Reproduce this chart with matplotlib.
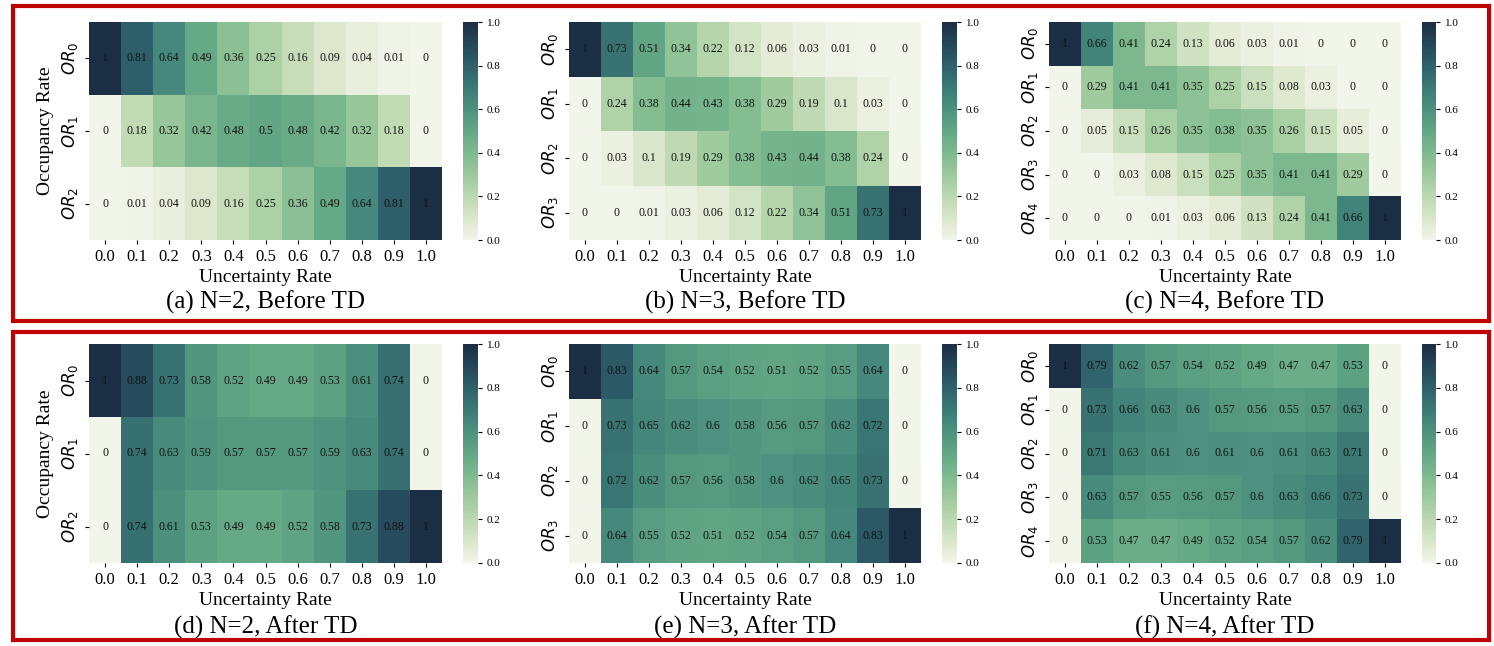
"""Heatmaps of occupancy rate vs uncertainty rate, before/after TD."""
import matplotlib
matplotlib.use("Agg")
import matplotlib.pyplot as plt
from matplotlib.patches import Rectangle
import numpy as np
import seaborn as sns

uncertainty = ["0.0", "0.1", "0.2", "0.3", "0.4", "0.5", "0.6", "0.7", "0.8", "0.9", "1.0"]

n2_before = [
    [1, 0.81, 0.64, 0.49, 0.36, 0.25, 0.16, 0.09, 0.04, 0.01, 0],
    [0, 0.18, 0.32, 0.42, 0.48, 0.5, 0.48, 0.42, 0.32, 0.18, 0],
    [0, 0.01, 0.04, 0.09, 0.16, 0.25, 0.36, 0.49, 0.64, 0.81, 1],
]
n3_before = [
    [1, 0.73, 0.51, 0.34, 0.22, 0.12, 0.06, 0.03, 0.01, 0, 0],
    [0, 0.24, 0.38, 0.44, 0.43, 0.38, 0.29, 0.19, 0.1, 0.03, 0],
    [0, 0.03, 0.1, 0.19, 0.29, 0.38, 0.43, 0.44, 0.38, 0.24, 0],
    [0, 0, 0.01, 0.03, 0.06, 0.12, 0.22, 0.34, 0.51, 0.73, 1],
]
n4_before = [
    [1, 0.66, 0.41, 0.24, 0.13, 0.06, 0.03, 0.01, 0, 0, 0],
    [0, 0.29, 0.41, 0.41, 0.35, 0.25, 0.15, 0.08, 0.03, 0, 0],
    [0, 0.05, 0.15, 0.26, 0.35, 0.38, 0.35, 0.26, 0.15, 0.05, 0],
    [0, 0, 0.03, 0.08, 0.15, 0.25, 0.35, 0.41, 0.41, 0.29, 0],
    [0, 0, 0, 0.01, 0.03, 0.06, 0.13, 0.24, 0.41, 0.66, 1],
]
n2_after = [
    [1, 0.88, 0.73, 0.58, 0.52, 0.49, 0.49, 0.53, 0.61, 0.74, 0],
    [0, 0.74, 0.63, 0.59, 0.57, 0.57, 0.57, 0.59, 0.63, 0.74, 0],
    [0, 0.74, 0.61, 0.53, 0.49, 0.49, 0.52, 0.58, 0.73, 0.88, 1],
]
n3_after = [
    [1, 0.83, 0.64, 0.57, 0.54, 0.52, 0.51, 0.52, 0.55, 0.64, 0],
    [0, 0.73, 0.65, 0.62, 0.6, 0.58, 0.56, 0.57, 0.62, 0.72, 0],
    [0, 0.72, 0.62, 0.57, 0.56, 0.58, 0.6, 0.62, 0.65, 0.73, 0],
    [0, 0.64, 0.55, 0.52, 0.51, 0.52, 0.54, 0.57, 0.64, 0.83, 1],
]
n4_after = [
    [1, 0.79, 0.62, 0.57, 0.54, 0.52, 0.49, 0.47, 0.47, 0.53, 0],
    [0, 0.73, 0.66, 0.63, 0.6, 0.57, 0.56, 0.55, 0.57, 0.63, 0],
    [0, 0.71, 0.63, 0.61, 0.6, 0.61, 0.6, 0.61, 0.63, 0.71, 0],
    [0, 0.63, 0.57, 0.55, 0.56, 0.57, 0.6, 0.63, 0.66, 0.73, 0],
    [0, 0.53, 0.47, 0.47, 0.49, 0.52, 0.54, 0.57, 0.62, 0.79, 1],
]

panels = [
    (n2_before, "(a) N=2, Before TD"),
    (n3_before, "(b) N=3, Before TD"),
    (n4_before, "(c) N=4, Before TD"),
    (n2_after, "(d) N=2, After TD"),
    (n3_after, "(e) N=3, After TD"),
    (n4_after, "(f) N=4, After TD"),
]

plt.rcParams["font.family"] = ["Liberation Serif", "DejaVu Serif"]
plt.rcParams["mathtext.fontset"] = "dejavusans"

W, H = 1494, 646
cmap = sns.cubehelix_palette(start=0, rot=-0.5, dark=0.17, light=0.95, as_cmap=True)


def px(x0, y0, x1, y1):
    return [x0 / W, 1 - y1 / H, (x1 - x0) / W, (y1 - y0) / H]


fig = plt.figure(figsize=(W / 100, H / 100), dpi=100)

# red frames around each row
for (y0, y1) in [(6, 321), (332, 640)]:
    fig.add_artist(Rectangle((13 / W, 1 - y1 / H), (1489 - 13) / W, (y1 - y0) / H,
                             transform=fig.transFigure, fill=False,
                             edgecolor="#c00000", linewidth=3))

col_x = [(89, 442, 463, 478), (569, 921, 942, 957), (1049, 1401, 1422, 1436)]
row_y = [(22, 240, 302), (344, 563, 627)]

for i, (data, caption) in enumerate(panels):
    r, c = divmod(i, 3)
    hx0, hx1, cx0, cx1 = col_x[c]
    y0, y1, cap_y = row_y[r]
    ax = fig.add_axes(px(hx0, y0, hx1, y1))
    cax = fig.add_axes(px(cx0, y0, cx1, y1))
    arr = np.array(data)
    rows = [rf"$OR_{k}$" for k in range(arr.shape[0])]
    sns.heatmap(arr, ax=ax, cbar_ax=cax, cmap=cmap, vmin=0, vmax=1,
                annot=True, annot_kws={"fontsize": 8.5, "color": "#111111"},
                xticklabels=uncertainty, yticklabels=rows)
    ax.tick_params(axis="x", labelsize=12, rotation=0, length=3)
    ax.tick_params(axis="y", labelsize=12, length=3)
    for lab in ax.get_yticklabels():
        lab.set_rotation(90)
        lab.set_va("center")
    ax.set_xlabel("Uncertainty Rate", fontsize=14, labelpad=3)
    if c == 0:
        ax.set_ylabel("Occupancy Rate", fontsize=14, labelpad=4)
    cax.tick_params(labelsize=8, length=3)
    fig.text((hx0 + hx1) / 2 / W, 1 - cap_y / H, caption, fontsize=18,
             ha="center", va="center")

fig.savefig("out.png", dpi=100)
